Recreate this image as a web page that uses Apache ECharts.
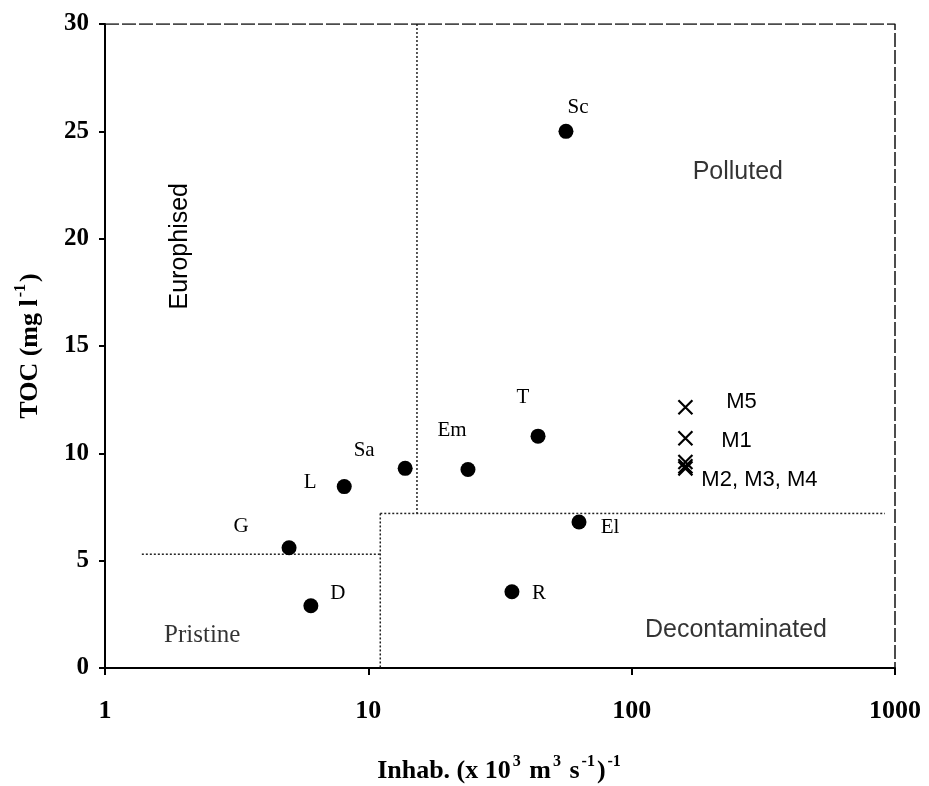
<!DOCTYPE html>
<html><head><meta charset="utf-8">
<script src="https://cdn.jsdelivr.net/npm/echarts@6/dist/echarts.min.js"></script>
<style>html,body{margin:0;padding:0;background:#fff}#c{width:929px;height:786px}</style>
</head><body><div id="c"></div>
<script>
// Sites (filled circles)
const siteNames = ['Sc','Sa','L','G','D','Em','T','El','R'];
const siteX = [56.3, 13.8, 8.1, 5.0, 6.05, 23.9, 44.1, 63.1, 35.1];
const siteY = [25.0, 9.3, 8.45, 5.6, 2.9, 9.25, 10.8, 6.8, 3.55];
// M stations (crosses)
const mNames = ['M5','M1','M2, M3, M4','',''];
const mX = [160, 160, 160, 160, 160];
const mY = [12.15, 10.7, 9.6, 9.4, 9.3];
// boundary lines (dotted)
const lineEuroX = [15.3, 15.3];   const lineEuroY = [30, 7.2];
const lineDecoX = [11.1, 916];    const lineDecoY = [7.2, 7.2];
const lineDecoVX = [11.1, 11.1];  const lineDecoVY = [7.2, 0];
const linePrisX = [1.38, 11.1];   const linePrisY = [5.3, 5.3];
// region names and where they sit (data coords)
const regionNames = ['Polluted', 'Pristine', 'Decontaminated'];
const regionX = [253, 2.34, 249];
const regionY = [23.1, 1.5, 1.77];
const xTicks = [1, 10, 100, 1000];
const yTicks = [0, 5, 10, 15, 20, 25, 30];

// label offsets (style)
const siteOff = {Sc:[12,-24],Sa:[-41,-18],L:[-34,-4],G:[-48,-21],D:[27,-12],Em:[-16,-39],T:[-15,-39],El:[31,5],R:[27,2]};
const mOff = {'M5':[56,-5],'M1':[51,3],'M2, M3, M4':[74,18]};
const regionFont = ['sans','serif','sans'];

const serif = '"Liberation Serif","DejaVu Serif",serif';
const sans = '"Liberation Sans","DejaVu Sans",sans-serif';

function pts(xs, ys){ return xs.map((x,i)=>[x, ys[i]]); }
function dotted(xs, ys){
  return {type:'line', data: pts(xs,ys), symbol:'none', silent:true,
    lineStyle:{color:'#222', width:1.5, type:[2,2]}, z:1};
}
const richT = {
  b:{fontFamily:serif, fontWeight:'bold', fontSize:26, color:'#000', lineHeight:30, verticalAlign:'bottom'},
  s:{fontFamily:serif, fontWeight:'bold', fontSize:16, color:'#000', lineHeight:30, verticalAlign:'top', padding:[0,2,12,2]}
};

const chart = echarts.init(document.getElementById('c'));
chart.setOption({
  animation:false,
  grid:{left:105, right:34, top:24, bottom:118, outerBoundsMode:'none', containLabel:false},
  xAxis:{type:'log', logBase:10, min:1, max:1000,
    axisLine:{show:true, lineStyle:{color:'#000', width:2}},
    axisTick:{show:true, inside:false, length:7, lineStyle:{color:'#000', width:2}},
    minorTick:{show:false}, splitLine:{show:false},
    axisLabel:{color:'#000', fontFamily:serif, fontWeight:'bold', fontSize:26, margin:30,
      formatter: v => String(v)},
    name:'{b|Inhab. (x 10}{s|3}{b| m}{s|3}{b| s}{s|-1}{b|)}{s|-1}',
    nameLocation:'middle', nameGap:86,
    nameTextStyle:{rich:richT}
  },
  yAxis:{type:'value', min:0, max:30, interval:5,
    axisLine:{show:true, lineStyle:{color:'#000', width:2}},
    axisTick:{show:true, inside:false, length:6, lineStyle:{color:'#000', width:2}},
    splitLine:{show:false},
    axisLabel:{color:'#000', fontFamily:serif, fontWeight:'bold', fontSize:25, margin:16},
    name:'{b|TOC (mg l}{s|-1}{b|)}',
    nameLocation:'middle', nameGap:62, nameRotate:90,
    nameTextStyle:{rich:richT}
  },
  graphic:[
    {type:'text', left:168, top:183, rotation:Math.PI/2, style:{text:'Europhised', font:'25px '+sans, fill:'#000'}}
  ],
  series:[
    dotted(lineEuroX, lineEuroY),
    dotted(lineDecoX, lineDecoY),
    dotted(lineDecoVX, lineDecoVY),
    dotted(linePrisX, linePrisY),
    // frame top/right (dashed)
    {type:'line', data:[[1,30],[1000,30],[1000,0]], symbol:'none', silent:true,
      lineStyle:{color:'#111', width:1.5, type:[14,3]}, z:1},
    // region labels
    {type:'scatter', symbolSize:0, silent:true,
      data: regionNames.map((n,i)=>({value:[regionX[i], regionY[i]],
        label:{show:true, position:'inside', formatter:n, color:'#000', fontSize:25,
          fontFamily: regionFont[i]==='sans'?sans:serif}}))
    },
    {type:'scatter', name:'sites', symbol:'circle', symbolSize:15,
      itemStyle:{color:'#000', opacity:1},
      data: siteNames.map((n,i)=>({name:n, value:[siteX[i], siteY[i]],
        label:{show:true, position:'inside', offset:siteOff[n], formatter:n,
          color:'#000', fontFamily:serif, fontSize:21}})),
      z:5
    },
    {type:'scatter', name:'M', symbol:'path://M0,0L10,10M10,0L0,10', symbolSize:14,
      itemStyle:{color:'none', borderColor:'#000', borderWidth:2.2, opacity:1},
      data: mNames.map((n,i)=>({name:n, value:[mX[i], mY[i]],
        label:{show: n!=='', position:'inside', offset: mOff[n]||[0,0], formatter:n,
          color:'#000', fontFamily:sans, fontSize:22}})),
      z:5
    }
  ]
});
</script></body></html>
